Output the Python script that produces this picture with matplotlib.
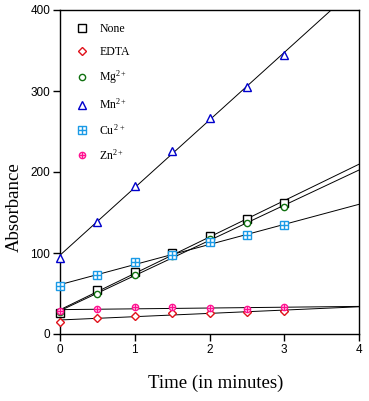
import numpy as np
import matplotlib
matplotlib.use("Agg")
import matplotlib.pyplot as plt
from matplotlib.legend_handler import HandlerTuple
from matplotlib.lines import Line2D

t = [0, 0.5, 1, 1.5, 2, 2.5, 3]
none_vals = [26, 54, 76, 100, 121, 142, 162]
edta_vals = [15, 20, 22, 26, 26, 27, 28]
mg_vals = [27, 50, 73, 96, 117, 137, 157]
mn_vals = [94, 138, 183, 226, 267, 305, 344]
cu_vals = [59, 73, 89, 97, 113, 122, 134]
zn_vals = [28, 31, 33, 33, 32, 31, 33]

labels = ["None", "EDTA", "Mg$^{2+}$", "Mn$^{2+}$", "Cu$^{\\,2+}$", "Zn$^{2+}$"]
series = [none_vals, edta_vals, mg_vals, mn_vals, cu_vals, zn_vals]
colors = ["black", "#e0101a", "#107010", "#0000cc", "#1a9ae6", "#ff1090"]
markers = ["s", "D", "o", "^", "s", "o"]
msizes = [5.5, 4.2, 4.5, 5.5, 5.2, 4.5]
overlay_plus = [False, False, False, False, True, True]

plt.rcParams['mathtext.fontset'] = 'custom'
plt.rcParams['mathtext.rm'] = 'Liberation Serif'
plt.rcParams['mathtext.it'] = 'Liberation Serif'

fig = plt.figure(figsize=(3.69, 4.01), dpi=100)
ax = fig.add_axes([60/369, 67/401, 299/369, 324/401])

xfit = np.array([0, 4])
handles = []
for vals, lab, c, m, ms, plus in zip(series, labels, colors, markers, msizes, overlay_plus):
    b, a = np.polyfit(t, vals, 1)
    ax.plot(xfit, a + b * xfit, color="black", lw=0.7, zorder=1)
    ax.plot(t, vals, linestyle="none", marker=m, ms=ms, mfc="white", mec=c, mew=1.0,
            zorder=3, clip_on=False)
    h = Line2D([], [], linestyle="none", marker=m, ms=ms, mfc="white", mec=c, mew=1.0)
    if plus:
        ax.plot(t, vals, linestyle="none", marker="+", ms=ms, mec=c, mew=1.0, zorder=4,
                clip_on=False)
        h2 = Line2D([], [], linestyle="none", marker="+", ms=ms, mec=c, mew=1.0)
        handles.append((h, h2))
    else:
        handles.append(h)

leg = ax.legend(handles, labels, loc="upper left", frameon=False,
                bbox_to_anchor=(0.015, 0.993), handletextpad=0.85, labelspacing=0.92,
                prop={"family": "Liberation Serif", "size": 8.5},
                handler_map={tuple: HandlerTuple(ndivide=1, pad=0)}, handlelength=1.2)

ax.set_xlim(0, 4)
ax.set_ylim(0, 400)
ax.set_xticks([0, 1, 2, 3, 4])
ax.set_yticks([0, 100, 200, 300, 400])
ax.tick_params(direction="out", length=5, width=1, labelsize=8.5, pad=2,
               top=False, right=False)
for lbl in ax.get_xticklabels() + ax.get_yticklabels():
    lbl.set_family("Liberation Sans")
for s in ax.spines.values():
    s.set_linewidth(1.0)

fig.text(216/369, 1 - 383/401, "Time (in minutes)", ha="center", va="center",
         family="Liberation Serif", fontsize=13.5)
fig.text(14/369, 1 - 207/401, "Absorbance", ha="center", va="center", rotation=90,
         family="Liberation Serif", fontsize=13.5)

fig.savefig("out.png", dpi=100)
